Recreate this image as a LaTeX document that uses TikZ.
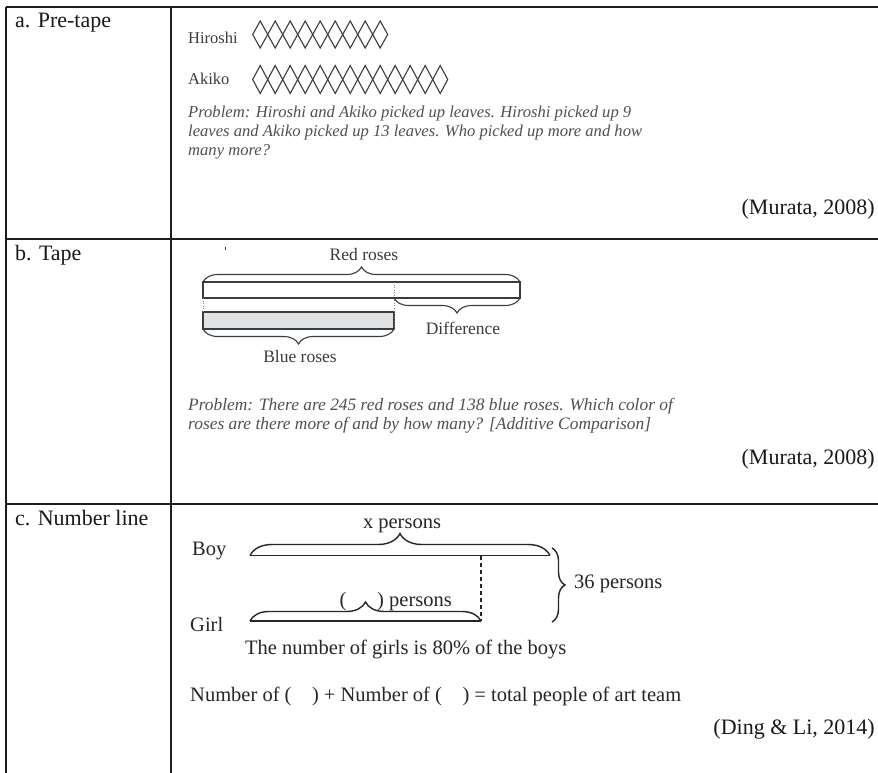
\documentclass[tikz,border=0pt]{standalone}
\usepackage{fontspec}
\setmainfont{Liberation Serif}
\usetikzlibrary{decorations.pathreplacing}
\definecolor{tabline}{HTML}{1E1E1E}
\definecolor{inkgray}{HTML}{3C3C3C}
\definecolor{probgray}{HTML}{505050}
\definecolor{bluefill}{HTML}{DEE2E5}
\tikzset{
  tab/.style={draw=tabline, line width=1.3pt},
  rowlab/.style={inner sep=0pt, font=\fontsize{22}{26}\selectfont, text=black!90},
  cite/.style={inner sep=0pt, font=\fontsize{22}{26}\selectfont, text=black!90},
  small/.style={inner sep=0pt, font=\fontsize{16.5}{19}\selectfont, text=inkgray},
  proba/.style={inner sep=0pt, font=\fontsize{16.6}{19}\selectfont\itshape, text=probgray},
  probb/.style={inner sep=0pt, font=\fontsize{17.4}{19}\selectfont\itshape, text=probgray},
  tapelab/.style={inner sep=0pt, font=\fontsize{17.5}{20}\selectfont, text=inkgray},
  numlab/.style={inner sep=0pt, font=\fontsize{20.5}{24}\selectfont, text=black!85},
  diam/.style={draw=inkgray, line width=1.1pt, line join=miter},
  tapebrace/.style={draw=inkgray, line width=1.1pt, decorate, decoration={brace, amplitude=15pt}},
  bar/.style={draw=inkgray, line width=1.1pt},
  dots/.style={draw=gray, line width=0.6pt, dotted},
  nbrace/.style={draw=black!85, line width=1.4pt, decorate},
  nline/.style={draw=black!85, line width=1.6pt},
}
\begin{document}
\begin{tikzpicture}[x=1pt,y=-1pt]
\useasboundingbox (0,0) rectangle (878,773);
\fill[white] (0,0) rectangle (878,773);

% table
\draw[tab] (6,7) -- (878,7);
\draw[tab] (6,239) -- (878,239);
\draw[tab] (6,504) -- (878,504);
\draw[tab] (6,7) -- (6,773);
\draw[tab] (171,7) -- (171,773);

% row labels
\node[rowlab, anchor=base west] (la) at (15,28) {a. Pre-tape};
\node[rowlab, anchor=base west] (lb) at (15,260) {b. Tape};
\node[rowlab, anchor=base west] (lc) at (15,525) {c. Number line};

% ---- row a
\node[small, anchor=base west] (hiroshi) at (188,44) {Hiroshi};
\node[small, anchor=base west] (akiko) at (188,85) {Akiko};
\foreach \i in {0,...,8} {
  \draw[diam] ({252.7+15*\i},34.5) -- ({260.2+15*\i},21) -- ({267.7+15*\i},34.5) -- ({260.2+15*\i},48) -- cycle;
}
\foreach \i in {0,...,12} {
  \draw[diam] ({252.7+15*\i},79.5) -- ({260.2+15*\i},65.5) -- ({267.7+15*\i},79.5) -- ({260.2+15*\i},93.5) -- cycle;
}
\node[proba, anchor=base west] (pa1) at (188,118) {Problem: Hiroshi and Akiko picked up leaves. Hiroshi picked up 9};
\node[proba, anchor=base west] (pa2) at (188,137) {leaves and Akiko picked up 13 leaves. Who picked up more and how};
\node[proba, anchor=base west] (pa3) at (188,156) {many more?};
\node[cite, anchor=base east] (cita) at (875,214) {(Murata, 2008)};

% ---- row b
\draw[draw=inkgray, line width=0.8pt] (225,246.5) -- (225,250);
\coordinate (rl) at (203,282);
\coordinate (rr) at (520,282);
\coordinate (mid) at (394,282);
\draw[bar] (203,282) rectangle (520,298);
\draw[bar, fill=bluefill] (203,312) rectangle (394,329);
\draw[dots] (394,282) -- (394,329);
\draw[dots] (203,298) -- (203,312);
\draw[tapebrace] (rl) -- (rr);
\draw[tapebrace] (520,298) -- (394,298);
\draw[tapebrace] (394,329) -- (203,329);
\node[tapelab] (red) at (364,255) {Red roses};
\node[tapelab] (diff) at (463,328) {Difference};
\node[tapelab] (blue) at (300,357) {Blue roses};
\node[probb, anchor=base west] (pb1) at (188,410) {Problem: There are 245 red roses and 138 blue roses. Which color of};
\node[probb, anchor=base west] (pb2) at (188,429) {roses are there more of and by how many? [Additive Comparison]};
\node[cite, anchor=base east] (citb) at (875,464) {(Murata, 2008)};

% ---- row c
\coordinate (bl) at (250,555.5);
\coordinate (br) at (550,555.5);
\coordinate (gl) at (250,621);
\coordinate (gr) at (481,621);
\coordinate (dtop) at (481,555.5);
\coordinate (rt) at (552,548);
\coordinate (rb) at (552,622);
\draw[nline] (bl) -- (br);
\draw[nbrace, decoration={brace, amplitude=22pt}] (bl) -- (br);
\draw[nline] (gl) -- (gr);
\draw[nbrace, decoration={brace, amplitude=19pt}] (gl) -- (gr);
\draw[draw=black!85, line width=1.3pt, dash pattern=on 4pt off 3pt] (dtop) -- (gr);
\draw[nbrace, decoration={brace, amplitude=13pt}] (rt) -- (rb);
\node[numlab] (xp) at (402,526) {x persons};
\node[numlab, anchor=base west] (boy) at (192,555) {Boy};
\node[numlab, anchor=base west] (girl) at (190,631) {Girl};
\node[numlab, anchor=base] (lpar) at (343,606) {(};
\node[numlab, anchor=base west] (gp) at (377,606) {) persons};
\node[numlab, anchor=west] (tot) at (574,584) {36 persons};
\node[numlab, anchor=base west] (pct) at (245,654) {The number of girls is 80\% of the boys};
\node[numlab, anchor=base west] (eq) at (190,701) {Number of (\hspace{1em}) + Number of (\hspace{1em}) = total people of art team};
\node[cite, anchor=base east] (citc) at (875,734) {(Ding \& Li, 2014)};
\end{tikzpicture}
\end{document}
